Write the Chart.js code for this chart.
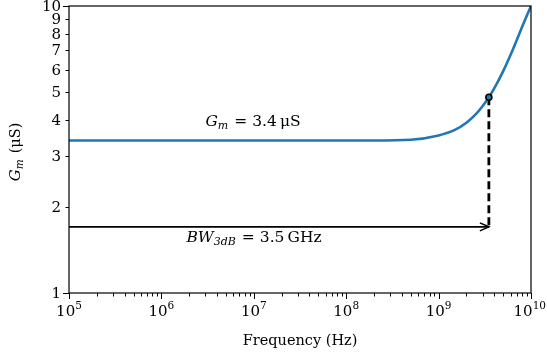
<!DOCTYPE html>
<html><head><meta charset="utf-8">
<script src="https://cdn.jsdelivr.net/npm/chart.js@4"></script>
<style>html,body{margin:0;padding:0;background:#fff}#wrap{width:547px;height:355px}</style>
</head><body><div id="wrap"><canvas id="c" width="547" height="355"></canvas></div>
<script>
const freq = [1e5, 1e6, 1e7, 1e8, 2e8, 5e8, 1e9, 1.5e9, 2e9, 2.5e9, 3e9, 3.5e9, 4e9, 5e9, 6e9, 7e9, 8e9, 9e9, 1e10];
const gm   = [3.40, 3.40, 3.40, 3.40, 3.40, 3.42, 3.54, 3.70, 3.92, 4.18, 4.48, 4.81, 5.16, 5.93, 6.75, 7.60, 8.45, 9.25, 10.0];
const bwFreq = 3.5e9;
const bwGm = 4.81;
const arrowGm = 1.7;
const xTickExponents = [5, 6, 7, 8, 9, 10];
const yTickValues = [1, 2, 3, 4, 5, 6, 7, 8, 9, 10];
const yTickLabels = ['1', '2', '3', '4', '5', '6', '7', '8', '9', '10'];
const gmLabel = '3.4';
const bwLabel = '3.5';

const SERIF = '"DejaVu Serif", "Liberation Serif", serif';

function richText(ctx, segs, x, y, align) {
  let w = 0;
  for (const s of segs) { ctx.font = (s.it ? 'italic ' : '') + s.size + 'px ' + SERIF; s.w = ctx.measureText(s.t).width; w += s.w + (s.gap || 0); }
  let cx = align === 'center' ? x - w / 2 : (align === 'right' ? x - w : x);
  ctx.textAlign = 'left'; ctx.textBaseline = 'alphabetic';
  for (const s of segs) {
    ctx.font = (s.it ? 'italic ' : '') + s.size + 'px ' + SERIF;
    ctx.fillText(s.t, cx, y + (s.dy || 0));
    cx += s.w + (s.gap || 0);
  }
}

const decor = {
  id: 'decor',
  afterDatasetsDraw(chart) {
    const ctx = chart.ctx, xs = chart.scales.x, ys = chart.scales.y, a = chart.chartArea;
    ctx.save();
    // arrow head
    const tx = xs.getPixelForValue(bwFreq), ty = ys.getPixelForValue(arrowGm);
    ctx.strokeStyle = '#000'; ctx.lineWidth = 1.6;
    ctx.beginPath(); ctx.moveTo(tx - 9, ty - 4); ctx.lineTo(tx, ty); ctx.lineTo(tx - 9, ty + 4); ctx.stroke();
    // spines
    ctx.lineWidth = 1.2; ctx.strokeStyle = '#000';
    ctx.strokeRect(a.left, a.top, a.right - a.left, a.bottom - a.top);
    // x ticks
    ctx.lineWidth = 1;
    ctx.fillStyle = '#000';
    for (let e = xTickExponents[0]; e <= xTickExponents[xTickExponents.length - 1]; e++) {
      for (let m = 1; m <= 9; m++) {
        const v = m * Math.pow(10, e);
        if (v > 1e10 * 1.0001) break;
        const px = Math.round(xs.getPixelForValue(v)) + 0.5;
        ctx.beginPath(); ctx.moveTo(px, a.bottom); ctx.lineTo(px, a.bottom + (m === 1 ? 6 : 3.5)); ctx.stroke();
      }
    }
    for (const e of xTickExponents) {
      const px = xs.getPixelForValue(Math.pow(10, e));
      const es = String(e);
      ctx.font = '15px ' + SERIF; const w1 = ctx.measureText('10').width;
      ctx.font = '10.5px ' + SERIF; const w2 = ctx.measureText(es).width;
      let left = px - (w1 + w2) / 2;
      if (left + w1 + w2 > 546) left = 546 - w1 - w2;
      ctx.font = '15px ' + SERIF; ctx.textAlign = 'left'; ctx.textBaseline = 'alphabetic';
      ctx.fillText('10', left, a.bottom + 23);
      ctx.font = '10.5px ' + SERIF; ctx.fillText(es, left + w1, a.bottom + 16);
    }
    // y ticks
    yTickValues.forEach((v, i) => {
      const py = Math.round(ys.getPixelForValue(v)) + 0.5;
      const major = (v === 1 || v === 10);
      ctx.beginPath(); ctx.moveTo(a.left, py); ctx.lineTo(a.left - (major ? 6 : 3.5), py); ctx.stroke();
      ctx.font = '15px ' + SERIF; ctx.textAlign = 'right'; ctx.textBaseline = 'middle';
      ctx.fillText(yTickLabels[i], a.left - 8, py + 0.5);
    });
    // axis titles
    ctx.font = '14.5px ' + SERIF; ctx.textAlign = 'center'; ctx.textBaseline = 'alphabetic';
    ctx.fillText('Frequency (Hz)', (a.left + a.right) / 2, 345);
    ctx.save();
    ctx.translate(20, 152);
    ctx.rotate(-Math.PI / 2);
    richText(ctx, [{t: 'G', it: true, size: 15}, {t: 'm', it: true, size: 10.5, dy: 3, gap: 6}, {t: '(μS)', size: 14.5}], 0, 0, 'center');
    ctx.restore();
    // annotations
    richText(ctx, [{t: 'G', it: true, size: 15.5}, {t: 'm', it: true, size: 11, dy: 3, gap: 6}, {t: '= ' + gmLabel + '\u2009μS', size: 15.5}], 253, 126, 'center');
    richText(ctx, [{t: 'BW', it: true, size: 15.5}, {t: '3dB', it: true, size: 11, dy: 3, gap: 6}, {t: '= ' + bwLabel + '\u2009GHz', size: 15.5}], 254, 242, 'center');
    ctx.restore();
  }
};

new Chart(document.getElementById('c'), {
  type: 'line',
  data: {
    datasets: [
      { data: freq.map((f, i) => ({x: f, y: gm[i]})), borderColor: '#1f77b4', borderWidth: 2.6, pointRadius: 0, cubicInterpolationMode: 'monotone', order: 2 },
      { data: [{x: bwFreq, y: bwGm}, {x: bwFreq, y: arrowGm}], borderColor: '#000', borderWidth: 2.8, borderDash: [8, 4], pointRadius: 0, order: 3 },
      { data: [{x: freq[0], y: arrowGm}, {x: bwFreq, y: arrowGm}], borderColor: '#000', borderWidth: 1.6, pointRadius: 0, order: 3 },
      { data: [{x: bwFreq, y: bwGm}], showLine: false, pointRadius: 3, pointBackgroundColor: '#1f77b4', pointBorderColor: '#000', pointBorderWidth: 1.6, order: 1 }
    ]
  },
  options: {
    responsive: false, animation: false, events: [],
    layout: { padding: { top: 6, right: 16, left: 0, bottom: 0 } },
    plugins: { legend: { display: false }, tooltip: { enabled: false } },
    scales: {
      x: { type: 'logarithmic', min: 1e5, max: 1e10, ticks: { display: false }, grid: { display: false }, border: { display: false },
           afterFit(s) { s.height = 62; } },
      y: { type: 'logarithmic', min: 1, max: 10, ticks: { display: false }, grid: { display: false }, border: { display: false },
           afterFit(s) { s.width = 69; } }
    }
  },
  plugins: [decor]
});
</script></body></html>
